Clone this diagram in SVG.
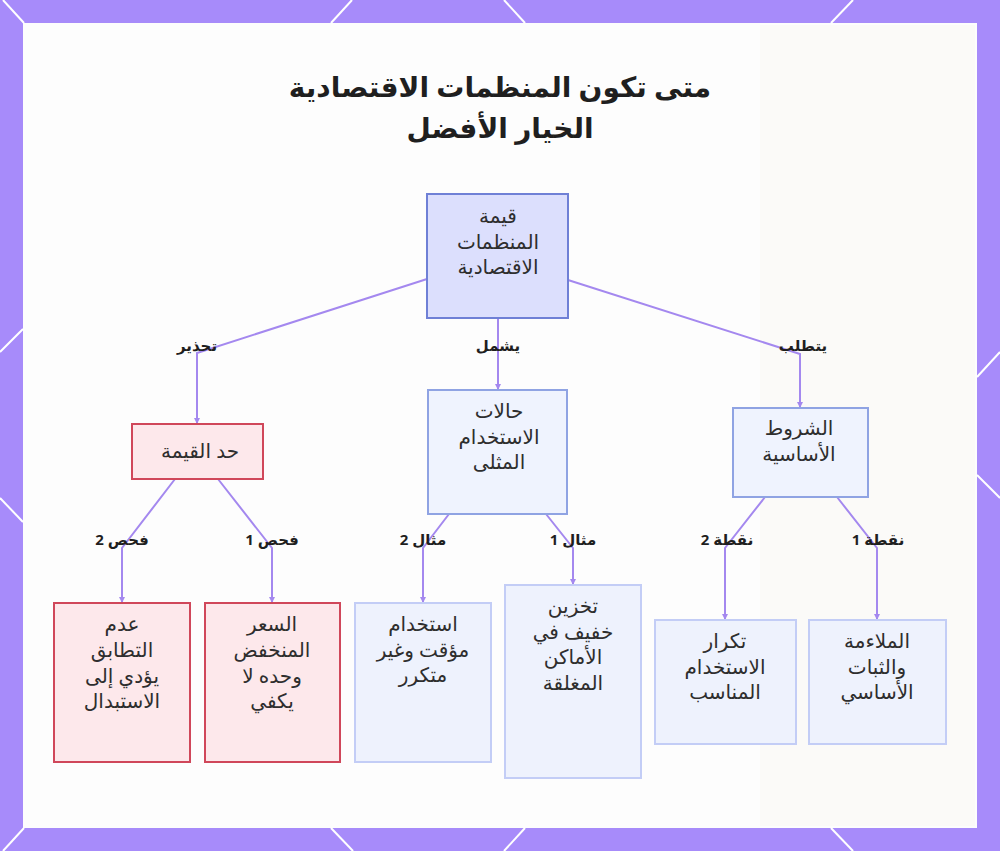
<svg xmlns="http://www.w3.org/2000/svg" width="1000" height="851" viewBox="0 0 1000 851">
<defs>
<style>
.frame{fill:#a78bfa}
.deco{stroke:#ffffff;stroke-width:2;fill:none}
.title{font-family:"Noto Sans","DejaVu Sans",sans-serif;font-size:28px;font-weight:bold;fill:#1f1f1f;text-anchor:middle}
.nt{font-family:"Noto Sans","DejaVu Sans",sans-serif;font-size:20px;fill:#2e2e2e;text-anchor:middle}
.lbl{font-family:"Noto Sans","DejaVu Sans",sans-serif;font-size:15px;font-weight:bold;fill:#1f1f1f;text-anchor:middle}
.edge{fill:none;stroke:#a488ef;stroke-width:2;marker-end:url(#arr)}
.top{fill:#dcdffd;stroke:#6f80d6;stroke-width:2}
.red{fill:#fde8eb;stroke:#d0475a;stroke-width:2}
.mid{fill:#eff3fe;stroke:#8fa3e3;stroke-width:2}
.leaf{fill:#eef2fd;stroke:#c3cdf6;stroke-width:2}
</style>
<marker id="arr" markerWidth="6" markerHeight="6" refX="5" refY="3" orient="auto" markerUnits="userSpaceOnUse">
<path d="M0,0 L6,3 L0,6 z" fill="#a488ef"/>
</marker>
</defs>
<rect class="frame" x="0" y="0" width="1000" height="851"/>
<rect x="23" y="23" width="954" height="805" fill="#fdfdfd"/>
<rect x="760" y="25" width="215" height="801" fill="#f6f3ef" opacity="0.35"/>
<g id="decor">
<line class="deco" x1="3" y1="0" x2="24" y2="23"/>
<line class="deco" x1="352" y1="0" x2="331" y2="23"/>
<line class="deco" x1="504" y1="0" x2="525" y2="23"/>
<line class="deco" x1="853" y1="0" x2="831" y2="23"/>
<line class="deco" x1="24" y1="828" x2="3" y2="851"/>
<line class="deco" x1="331" y1="828" x2="353" y2="851"/>
<line class="deco" x1="525" y1="828" x2="504" y2="851"/>
<line class="deco" x1="831" y1="828" x2="853" y2="851"/>
<line class="deco" x1="0" y1="352" x2="23" y2="329"/>
<line class="deco" x1="0" y1="498" x2="23" y2="522"/>
<line class="deco" x1="977" y1="377" x2="1000" y2="352"/>
<line class="deco" x1="977" y1="475" x2="1000" y2="498"/>
</g>
<g id="title">
<text class="title" x="500" y="97" direction="rtl">متى تكون المنظمات الاقتصادية</text>
<text class="title" x="500" y="138" direction="rtl">الخيار الأفضل</text>
</g>
<g id="connectors">
<polyline class="edge" points="427,279 197,353 197,423"/>
<polyline class="edge" points="498,318 498,389"/>
<polyline class="edge" points="568,280 800,354 800,407"/>
<polyline class="edge" points="175,479 122,548 122,602"/>
<polyline class="edge" points="218,479 272,548 272,602"/>
<polyline class="edge" points="449,514 423,548 423,602"/>
<polyline class="edge" points="546,514 573,548 573,584"/>
<polyline class="edge" points="765,497 725,548 725,619"/>
<polyline class="edge" points="837,497 877,548 877,619"/>
<text class="lbl" x="197" y="351" direction="rtl">تحذير</text>
<text class="lbl" x="498" y="351" direction="rtl">يشمل</text>
<text class="lbl" x="803" y="351" direction="rtl">يتطلب</text>
<text class="lbl" x="122" y="545" direction="rtl">فحص 2</text>
<text class="lbl" x="272" y="545" direction="rtl">فحص 1</text>
<text class="lbl" x="423" y="545" direction="rtl">مثال 2</text>
<text class="lbl" x="573" y="545" direction="rtl">مثال 1</text>
<text class="lbl" x="727" y="545" direction="rtl">نقطة 2</text>
<text class="lbl" x="878" y="545" direction="rtl">نقطة 1</text>
</g>
<g id="n-root">
<rect class="top" x="427" y="194" width="141" height="124"/>
<text class="nt" x="498" y="223" direction="rtl">قيمة</text>
<text class="nt" x="498" y="249" direction="rtl">المنظمات</text>
<text class="nt" x="498" y="274" direction="rtl">الاقتصادية</text>
</g>
<g id="n-limit">
<rect class="red" x="132" y="424" width="131" height="55"/>
<text class="nt" x="200" y="458" direction="rtl">حد القيمة</text>
</g>
<g id="n-cases">
<rect class="mid" x="428" y="390" width="139" height="124"/>
<text class="nt" x="499" y="418" direction="rtl">حالات</text>
<text class="nt" x="499" y="444" direction="rtl">الاستخدام</text>
<text class="nt" x="499" y="469" direction="rtl">المثلى</text>
</g>
<g id="n-cond">
<rect class="mid" x="733" y="408" width="135" height="89"/>
<text class="nt" x="799" y="435" direction="rtl">الشروط</text>
<text class="nt" x="799" y="461" direction="rtl">الأساسية</text>
</g>
<g id="n-mismatch">
<rect class="red" x="54" y="603" width="136" height="159"/>
<text class="nt" x="122" y="631" direction="rtl">عدم</text>
<text class="nt" x="122" y="657" direction="rtl">التطابق</text>
<text class="nt" x="122" y="683" direction="rtl">يؤدي إلى</text>
<text class="nt" x="122" y="708" direction="rtl">الاستبدال</text>
</g>
<g id="n-price">
<rect class="red" x="205" y="603" width="135" height="159"/>
<text class="nt" x="272" y="631" direction="rtl">السعر</text>
<text class="nt" x="272" y="657" direction="rtl">المنخفض</text>
<text class="nt" x="272" y="683" direction="rtl">وحده لا</text>
<text class="nt" x="272" y="708" direction="rtl">يكفي</text>
</g>
<g id="n-temp">
<rect class="leaf" x="355" y="603" width="136" height="159"/>
<text class="nt" x="423" y="631" direction="rtl">استخدام</text>
<text class="nt" x="423" y="657" direction="rtl">مؤقت وغير</text>
<text class="nt" x="423" y="682" direction="rtl">متكرر</text>
</g>
<g id="n-storage">
<rect class="leaf" x="505" y="585" width="136" height="193"/>
<text class="nt" x="573" y="613" direction="rtl">تخزين</text>
<text class="nt" x="573" y="639" direction="rtl">خفيف في</text>
<text class="nt" x="573" y="664" direction="rtl">الأماكن</text>
<text class="nt" x="573" y="690" direction="rtl">المغلقة</text>
</g>
<g id="n-repeat">
<rect class="leaf" x="655" y="620" width="141" height="124"/>
<text class="nt" x="725" y="648" direction="rtl">تكرار</text>
<text class="nt" x="725" y="674" direction="rtl">الاستخدام</text>
<text class="nt" x="725" y="699" direction="rtl">المناسب</text>
</g>
<g id="n-fit">
<rect class="leaf" x="809" y="620" width="137" height="124"/>
<text class="nt" x="877" y="648" direction="rtl">الملاءمة</text>
<text class="nt" x="877" y="674" direction="rtl">والثبات</text>
<text class="nt" x="877" y="699" direction="rtl">الأساسي</text>
</g>
</svg>
